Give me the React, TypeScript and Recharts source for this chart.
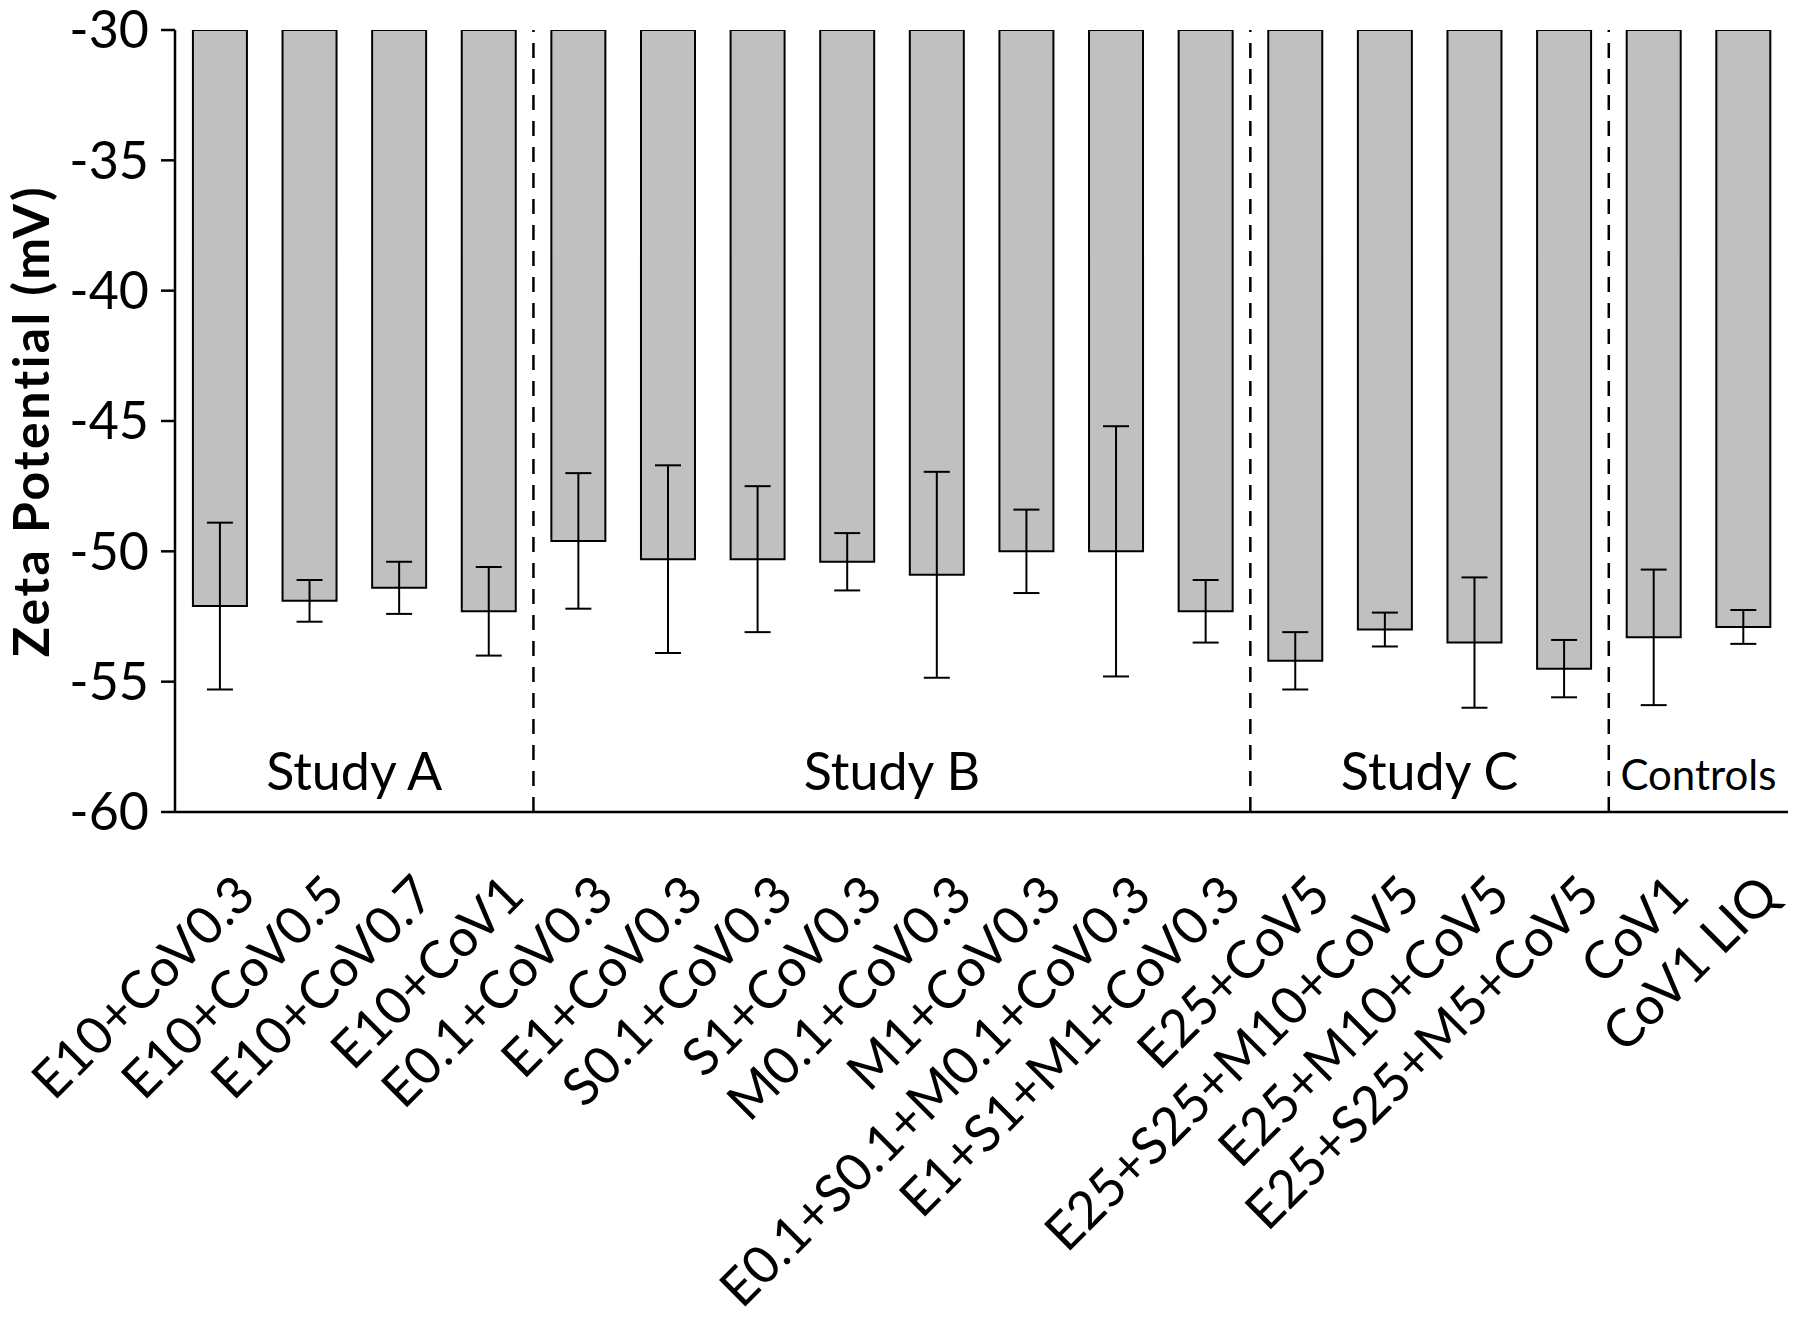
import React from "react";
import { BarChart, Bar, XAxis, YAxis, ErrorBar, ReferenceLine, ReferenceArea } from "recharts";

const categories = [
  "E10+CoV0.3",
  "E10+CoV0.5",
  "E10+CoV0.7",
  "E10+CoV1",
  "E0.1+CoV0.3",
  "E1+CoV0.3",
  "S0.1+CoV0.3",
  "S1+CoV0.3",
  "M0.1+CoV0.3",
  "M1+CoV0.3",
  "E0.1+S0.1+M0.1+CoV0.3",
  "E1+S1+M1+CoV0.3",
  "E25+CoV5",
  "E25+S25+M10+CoV5",
  "E25+M10+CoV5",
  "E25+S25+M5+CoV5",
  "CoV1",
  "CoV1 LIQ",
];
const zeta = [-52.1, -51.9, -51.4, -52.3, -49.6, -50.3, -50.3, -50.4, -50.9, -50.0, -50.0, -52.3, -54.2, -53.0, -53.5, -54.5, -53.3, -52.9];
const zetaErr = [3.2, 0.8, 1.0, 1.7, 2.6, 3.6, 2.8, 1.1, 3.95, 1.6, 4.8, 1.2, 1.1, 0.65, 2.5, 1.1, 2.6, 0.65];
const yTicks = [-60, -55, -50, -45, -40, -35, -30];

const groupLabels = ["Study A", "Study B", "Study C", "Controls"];
const groupFirst = ["E10+CoV0.3", "E0.1+CoV0.3", "E25+CoV5", "CoV1"];
const groupLast = ["E10+CoV1", "E1+S1+M1+CoV0.3", "E25+S25+M5+CoV5", "CoV1 LIQ"];
const groupFontSize = [52, 52, 52, 42];

const data = categories.map((name, i) => ({ name, zeta: zeta[i], err: zetaErr[i] }));

const FONT = "Lato, sans-serif";

// rotated category labels, right end sits a bit right of the bar centre
const CategoryTick = (props: any) => {
  const { x, y, payload } = props;
  return (
    <g transform={`translate(${x + 38}, ${y + 86}) rotate(-45)`}>
      <text x={0} y={0} textAnchor="end" fontFamily={FONT} fontSize={52} fill="#000">
        {payload.value}
      </text>
    </g>
  );
};

const App = () => {
  return (
    <div style={{ position: "absolute", left: 0, top: 0, width: 1800, height: 1320, background: "#fff" }}>
      <BarChart
        width={1800}
        height={1320}
        data={data}
        margin={{ top: 30, right: 12, left: 55, bottom: 88 }}
        barCategoryGap="20%"
      >
        <XAxis
          dataKey="name"
          interval={0}
          height={420}
          tickLine={false}
          tickSize={0}
          tickMargin={0}
          axisLine={{ stroke: "#000", strokeWidth: 2.5 }}
          tick={<CategoryTick />}
        />
        <XAxis xAxisId="top" dataKey="name" orientation="top" height={0} tick={false} tickLine={false} axisLine={{ stroke: "#000", strokeWidth: 2.5 }} />
        <YAxis
          type="number"
          domain={[-60, -30]}
          ticks={yTicks}
          interval={0}
          width={120}
          allowDataOverflow
          tickSize={14}
          tickMargin={12}
          tickLine={{ stroke: "#000", strokeWidth: 2.5 }}
          axisLine={{ stroke: "#000", strokeWidth: 2.5 }}
          tick={{ fontFamily: FONT, fontSize: 52, fill: "#000" }}
          label={{
            content: (p: any) => {
              const vb = p.viewBox;
              return (
                <text
                  transform={`translate(${vb.x - 6}, ${vb.y + vb.height / 2}) rotate(-90)`}
                  textAnchor="middle"
                  fontFamily={FONT}
                  fontWeight="bold"
                  fontSize={50}
                  letterSpacing={2.5}
                  fill="#000"
                >
                  Zeta Potential (mV)
                </text>
              );
            },
          }}
        />
        <YAxis yAxisId="right" orientation="right" type="number" domain={[-60, -30]} width={0} tick={false} tickLine={false} axisLine={{ stroke: "#000", strokeWidth: 2.5 }} />
        {groupLabels.map((label, i) => (
          <ReferenceArea
            key={label}
            x1={groupFirst[i]}
            x2={groupLast[i]}
            fillOpacity={0}
            strokeOpacity={0}
            label={{
              content: (p: any) => {
                const vb = p.viewBox;
                return (
                  <text x={vb.x + vb.width / 2} y={vb.y + vb.height - 22} textAnchor="middle" fontFamily={FONT} fontSize={groupFontSize[i]} fill="#000">
                    {label}
                  </text>
                );
              },
            }}
          />
        ))}
        <Bar dataKey="zeta" fill="#c0c0c0" stroke="#000" strokeWidth={2} isAnimationActive={false}>
          <ErrorBar dataKey="err" width={13} stroke="#000" strokeWidth={2} isAnimationActive={false} />
        </Bar>
        {groupFirst.slice(1).map((name) => (
          <ReferenceLine key={name} x={name} position="start" stroke="#000" strokeWidth={2.5} strokeDasharray="15 11" />
        ))}
      </BarChart>
    </div>
  );
};

export default App;
